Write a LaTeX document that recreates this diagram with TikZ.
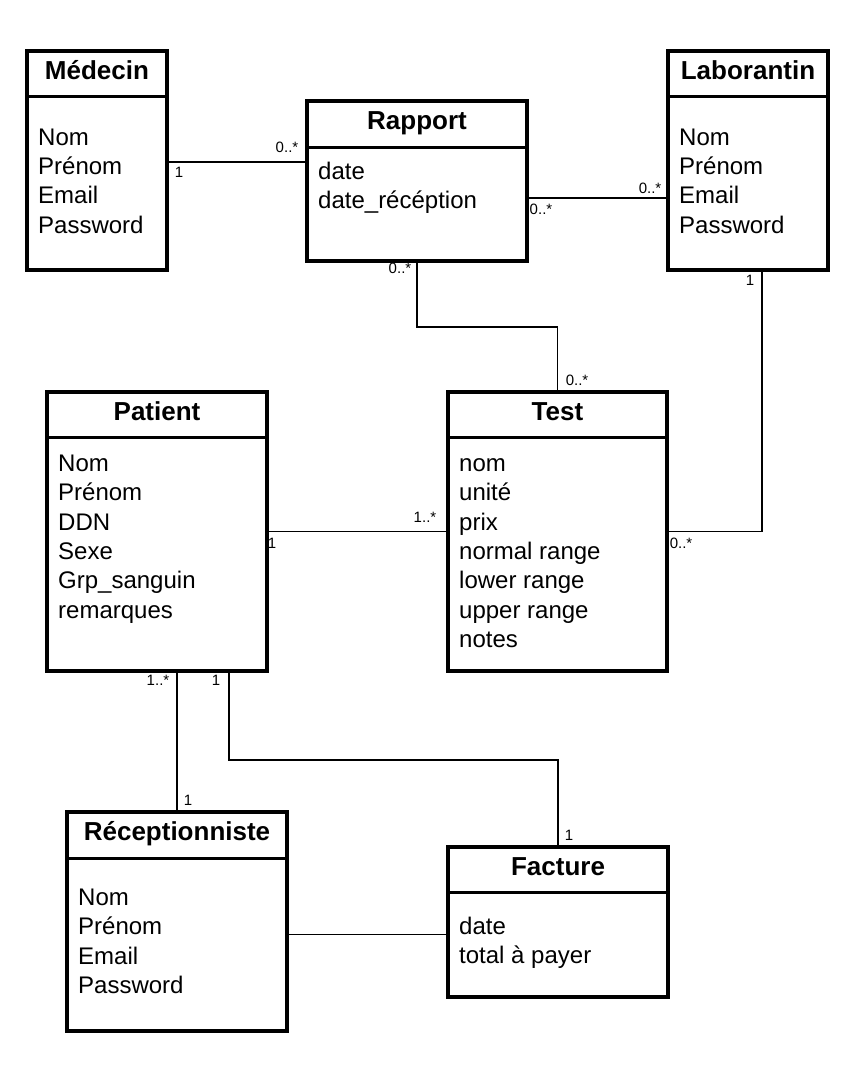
\documentclass[tikz,border=0pt]{standalone}
\usepackage{fontspec}
\setmainfont{Liberation Sans}
\usetikzlibrary{positioning,calc}

\begin{document}
\begin{tikzpicture}[x=1pt,y=-1pt]
\tikzset{
  cls/.style={draw, line width=3.6pt, inner sep=0pt, outer sep=0pt, anchor=north west},
  hdr/.style={line width=3pt},
  ttl/.style={anchor=base, inner sep=0pt, font=\fontsize{26}{31}\selectfont\bfseries},
  att/.style={anchor=base west, align=left, inner sep=0pt, font=\fontsize{24}{29.3}\selectfont},
  asc/.style={line width=1.6pt},
  mul/.style={inner sep=0pt, font=\fontsize{15}{18}\selectfont}
}
\useasboundingbox (0,0) rectangle (857,1065);
% ---------- classes ----------
\node[cls, minimum width=140, minimum height=219] (med) at (27,51) {};
\node[cls, minimum width=220, minimum height=160] (rap) at (307,101) {};
\node[cls, minimum width=160, minimum height=219] (lab) at (668,51) {};
\node[cls, minimum width=220, minimum height=279] (pat) at (47,392) {};
\node[cls, minimum width=219, minimum height=279] (tst) at (448,392) {};
\node[cls, minimum width=220, minimum height=219] (rec) at (67,812) {};
\node[cls, minimum width=220, minimum height=150] (fac) at (448,847) {};
\foreach \n/\h in {med/45.5, rap/46, lab/45.5, pat/45, tst/45, rec/46, fac/45}
  \draw[hdr] ([yshift=-\h pt]\n.north west) -- ([yshift=-\h pt]\n.north east);
% ---------- titles ----------
\node[ttl] (medT) at ([yshift=-28.5pt]med.north) {Médecin};
\node[ttl] (rapT) at ([yshift=-28.5pt]rap.north) {Rapport};
\node[ttl] (labT) at ([yshift=-28.5pt]lab.north) {Laborantin};
\node[ttl] (patT) at ([yshift=-28.5pt]pat.north) {Patient};
\node[ttl] (tstT) at ([yshift=-28.5pt]tst.north) {Test};
\node[ttl] (recT) at ([yshift=-28.5pt]rec.north) {Réceptionniste};
\node[ttl] (facT) at ([yshift=-28.5pt]fac.north) {Facture};
% ---------- attributes (anchored at last baseline) ----------
\node[att] (medA) at ([xshift=11pt,yshift=-182pt]med.north west) {Nom\\Prénom\\Email\\Password};
\node[att] (rapA) at ([xshift=11pt,yshift=-107.3pt]rap.north west) {date\\date\_récéption};
\node[att] (labA) at ([xshift=11pt,yshift=-182pt]lab.north west) {Nom\\Prénom\\Email\\Password};
\node[att] (patA) at ([xshift=11pt,yshift=-226pt]pat.north west) {Nom\\Prénom\\DDN\\Sexe\\Grp\_sanguin\\remarques};
\node[att] (tstA) at ([xshift=11pt,yshift=-255.3pt]tst.north west) {nom\\unité\\prix\\normal range\\lower range\\upper range\\notes};
\node[att] (recA) at ([xshift=11pt,yshift=-181.4pt]rec.north west) {Nom\\Prénom\\Email\\Password};
\node[att] (facA) at ([xshift=11pt,yshift=-116.3pt]fac.north west) {date\\total à payer};
% ---------- associations ----------
\coordinate (m1) at ([yshift=-1.5pt]med.east);
\draw[asc] (m1) -- (m1 -| rap.west);
\coordinate (r1) at ([yshift=-17pt]rap.east);
\draw[asc] (r1) -- (r1 -| lab.west);
\draw[asc] (rap.south) -- ++(0,66) -| (tst.north);
\coordinate (l1) at ([xshift=14pt]lab.south);
\draw[asc] (l1) |- (tst.east);
\draw[asc] (pat.east) -- (tst.west);
\draw[asc] (rec.north |- pat.south) -- (rec.north);
\coordinate (p1) at ([xshift=72pt]pat.south);
\draw[asc] (p1) -- ++(0,89) -| (fac.north);
\coordinate (c1) at ([yshift=-13pt]rec.east);
\draw[asc] (c1) -- (c1 -| fac.west);
% ---------- multiplicities ----------
\node[mul] (mA) at (179,172) {1};
\node[mul] (mB) at (287,147) {0..*};
\node[mul] (mC) at (541,209) {0..*};
\node[mul] (mD) at (650,188) {0..*};
\node[mul] (mE) at (400,268) {0..*};
\node[mul] (mF) at (577,380) {0..*};
\node[mul] (mG) at (750,280) {1};
\node[mul] (mH) at (681,543) {0..*};
\node[mul] (mI) at (272,543) {1};
\node[mul] (mJ) at (425,517) {1..*};
\node[mul] (mK) at (158,680) {1..*};
\node[mul] (mL) at (216,680) {1};
\node[mul] (mM) at (188,800) {1};
\node[mul] (mN) at (569,835) {1};
\end{tikzpicture}
\end{document}
